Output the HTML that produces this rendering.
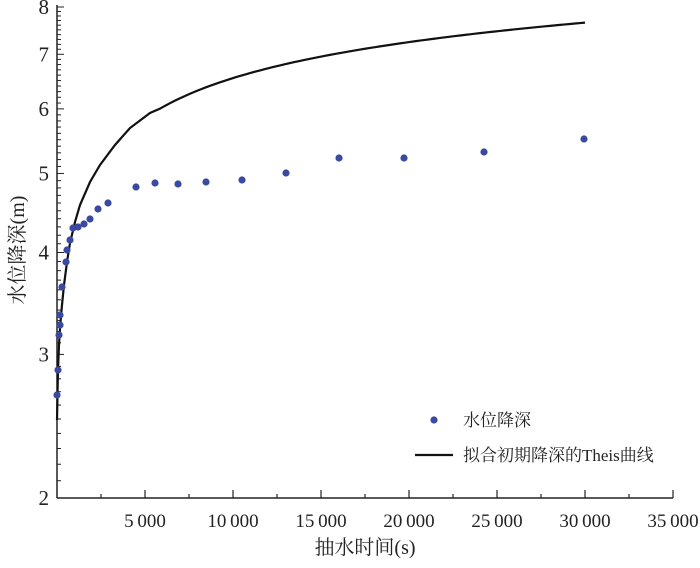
<!DOCTYPE html>
<html><head><meta charset="utf-8"><style>
html,body{margin:0;padding:0;background:#fff;}
svg text{font-family:"Liberation Serif","Noto Serif CJK SC",serif;fill:#222;}
</style></head><body>
<svg id="s" width="700" height="563" xmlns="http://www.w3.org/2000/svg"></svg>
<script>
const s=document.getElementById('s');
const X0=57,X1=673,Y0=498,Y1=7;
const px=t=>X0+t*(X1-X0)/35000;
const py=v=>Y0-Math.log(v/2)/Math.log(4)*(Y0-Y1);
let h='';
h+=`<line x1="${X0}" y1="${Y1-2}" x2="${X0}" y2="${Y0}" stroke="#222" stroke-width="1.5"/>`;
h+=`<line x1="${X0}" y1="${Y0}" x2="${X1}" y2="${Y0}" stroke="#222" stroke-width="1.5"/>`;
for(let v=2;v<=8.001;v+=0.1){const y=py(v);const maj=Math.abs(v-Math.round(v))<0.01;
h+=`<line x1="${X0}" y1="${y}" x2="${X0+(maj?7:4)}" y2="${y}" stroke="#222" stroke-width="1"/>`;
if(maj)h+=`<text x="${X0-8}" y="${y+7}" font-size="21" text-anchor="end">${Math.round(v)}</text>`;}
for(let t=2500;t<=35000;t+=2500){const x=px(t);const maj=t%5000==0;
h+=`<line x1="${x}" y1="${Y0}" x2="${x}" y2="${Y0-(maj?8:4)}" stroke="#222" stroke-width="1.2"/>`;
if(maj)h+=`<text x="${x}" y="${Y0+29}" font-size="19" text-anchor="middle">${(t/1000)+'\u2009000'}</text>`;}
let pts=[[57,420],[58,370],[59,345],[60,328],[62,305],[64,285],[67,262],[70,243],[75,222],[80,205],[90,182],[100,165],[115,145],[130,128],[150,113]];
for(let x=160;x<=585;x+=5){const t=(x-X0)*35000/(X1-X0);const v=5.90+1.01*Math.log(t/5280);pts.push([x,py(v)]);}
h+=`<polyline fill="none" stroke="#111" stroke-width="2.2" points="${pts.map(p=>p.join(',')).join(' ')}"/>`;
const d=[[57,395],[58,370],[59,335],[60,325],[60,315],[62,287],[66,262],[67,250],[70,240],[73,228],[78,227],[84,224],[90,219],[98,209],[108,203],[136,187],[155,183],[178,184],[206,182],[242,180],[286,173],[339,158],[404,158],[484,152],[584,139]];
d.forEach(p=>h+=`<circle cx="${p[0]}" cy="${p[1]}" r="3.6" fill="#3a4aa0"/>`);
h+=`<circle cx="434" cy="420" r="3.6" fill="#3a4aa0"/>`;
h+=`<text x="463" y="426" font-size="17">水位降深</text>`;
h+=`<line x1="415" y1="455" x2="453" y2="455" stroke="#111" stroke-width="2.2"/>`;
h+=`<text x="463" y="461" font-size="17">拟合初期降深的Theis曲线</text>`;
h+=`<text x="365" y="554" font-size="20" text-anchor="middle">抽水时间(s)</text>`;
h+=`<text transform="translate(24,250) rotate(-90)" font-size="20" text-anchor="middle">水位降深(m)</text>`;
s.innerHTML=h;
</script>
</body></html>
